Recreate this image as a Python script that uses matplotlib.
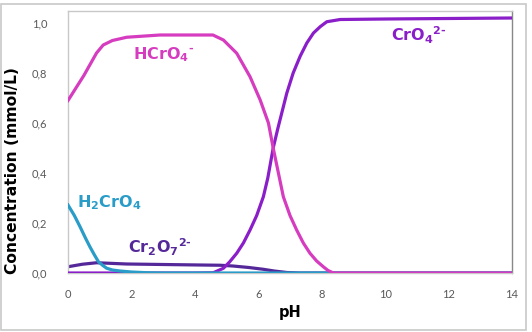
import matplotlib
matplotlib.use("Agg")
import matplotlib.pyplot as plt
from matplotlib.patches import Rectangle
from matplotlib.ticker import FuncFormatter

plt.rcParams['font.family'] = ['DejaVu Sans']
plt.rcParams['mathtext.fontset'] = 'custom'
plt.rcParams['mathtext.rm'] = 'DejaVu Sans:bold'
plt.rcParams['mathtext.default'] = 'regular'

# Species concentrations (mmol/L) vs pH
ph_hcro4 = [0, 0.5, 0.9, 1.11, 1.4, 1.85, 2.9, 3.53, 4.57, 4.9, 5.32, 5.74, 6.06, 6.32, 6.47,
            6.79, 7.0, 7.21, 7.42, 7.63, 7.84, 8.05, 8.2, 8.37, 10, 12, 14]
hcro4 = [0.69, 0.79, 0.88, 0.912, 0.93, 0.943, 0.952, 0.952, 0.952, 0.932, 0.879, 0.785, 0.692, 0.60, 0.50,
         0.305, 0.23, 0.172, 0.12, 0.079, 0.048, 0.025, 0.01, 0.0, 0.0, 0.0, 0.0]

ph_cro4 = [0, 2, 4, 4.58, 4.9, 5.1, 5.32, 5.53, 5.74, 5.95, 6.16, 6.3, 6.47, 6.62, 6.9, 7.1,
           7.32, 7.53, 7.74, 7.95, 8.16, 8.58, 10, 12, 14]
cro4 = [0.0, 0.0, 0.0, 0.001, 0.019, 0.045, 0.079, 0.12, 0.172, 0.23, 0.305, 0.38, 0.50, 0.58, 0.72, 0.80,
        0.867, 0.92, 0.96, 0.985, 1.005, 1.014, 1.016, 1.018, 1.02]

ph_h2cro4 = [0, 0.2, 0.38, 0.55, 0.69, 0.83, 0.96, 1.1, 1.22, 1.4, 1.64, 2.0, 2.5, 3.0, 8, 14]
h2cro4 = [0.272, 0.23, 0.185, 0.14, 0.105, 0.073, 0.045, 0.03, 0.019, 0.012, 0.008, 0.004, 0.001, 0.0, 0.0, 0.0]

ph_cr2o7 = [0, 0.45, 0.9, 1.85, 3.0, 4.16, 4.8, 5.2, 5.7, 6.15, 6.5, 6.9, 7.3, 14]
cr2o7 = [0.025, 0.035, 0.041, 0.036, 0.034, 0.032, 0.031, 0.028, 0.022, 0.015, 0.008, 0.002, 0.0, 0.0]

x_ticks = [0, 2, 4, 6, 8, 10, 12, 14]
y_ticks = [0.0, 0.2, 0.4, 0.6, 0.8, 1.0]

c_hcro4 = '#d63cbf'
c_cro4 = '#8a1ec8'
c_h2cro4 = '#2a9cc8'
c_cr2o7 = '#55289a'

fig = plt.figure(figsize=(5.32, 3.32), dpi=100)
ax = fig.add_axes([68/532, 1-273/332, (512-68)/532, (273-10.5)/332])

lw = 2.3
ax.plot(ph_cr2o7, cr2o7, color=c_cr2o7, lw=lw, zorder=2)
ax.plot(ph_cro4, cro4, color=c_cro4, lw=lw, zorder=3)
ax.plot(ph_h2cro4, h2cro4, color=c_h2cro4, lw=lw, zorder=4)
ax.plot(ph_hcro4, hcro4, color=c_hcro4, lw=lw, zorder=5)

ax.set_xlim(0, 14)
ax.set_ylim(0, 1.05)
ax.set_xticks(x_ticks)
ax.set_yticks(y_ticks)
ax.yaxis.set_major_formatter(FuncFormatter(lambda v, p: f"{v:.1f}".replace('.', ',')))
ax.tick_params(axis='y', length=0, labelsize=8, labelcolor='#595959', pad=15, labelfontfamily='Lato')
ax.tick_params(axis='x', length=0, labelsize=8, labelcolor='#595959', pad=11.5, labelfontfamily='Lato')
for side in ['left', 'top', 'bottom']:
    ax.spines[side].set_color('#c8c8c8')
ax.spines['right'].set_color('#888888')
for s in ax.spines.values():
    s.set_linewidth(1.0)

fig.text(290/532, 1-313/332, 'pH', fontsize=10.5, fontweight='bold', ha='center', va='center')
fig.text(13/532, 1-170/332, 'Concentration (mmol/L)', fontsize=11.2, fontweight='bold',
         rotation=90, ha='center', va='center')

tfs = 11.5
dash = '\u2010'
ax.text(2.05, 0.856, r'HCrO$_4$$^{' + dash + '}$', color=c_hcro4, fontsize=tfs, fontweight='bold', va='baseline', ha='left')
ax.text(10.2, 0.925, r'CrO$_4$$^{2' + dash + '}$', color=c_cro4, fontsize=tfs, fontweight='bold', va='baseline', ha='left')
ax.text(0.27, 0.263, r'H$_2$CrO$_4$', color=c_h2cro4, fontsize=tfs, fontweight='bold', va='baseline', ha='left')
ax.text(1.9, 0.079, r'Cr$_2$O$_7$$^{2' + dash + '}$', color=c_cr2o7, fontsize=tfs, fontweight='bold', va='baseline', ha='left')

fig.patches.append(Rectangle((1/532, 1-330/332), 525/532, 326/332, transform=fig.transFigure,
                             fill=False, edgecolor='#c8c8c8', lw=1.2))

fig.savefig('out.png', dpi=100)
